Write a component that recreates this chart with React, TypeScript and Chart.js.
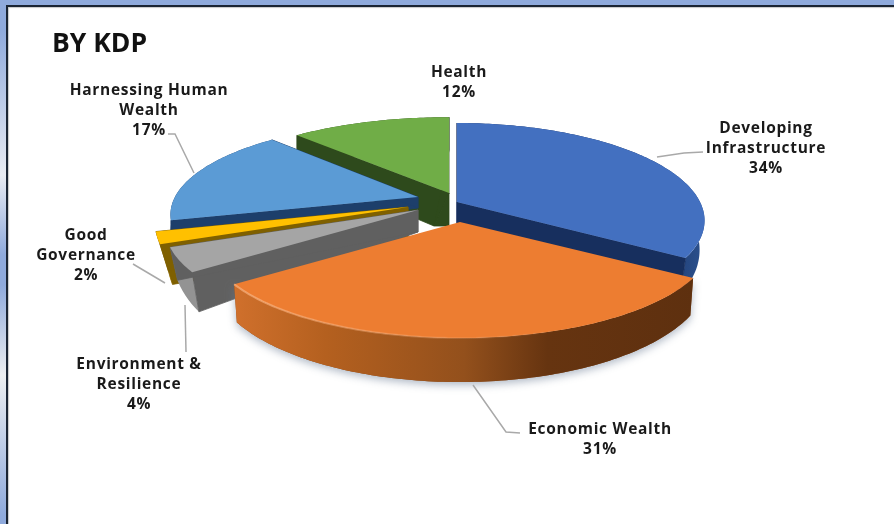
import React, { useEffect, useRef } from "react";
import { Chart, registerables } from "chart.js";

Chart.register(...registerables);

const categories = ["Developing Infrastructure", "Economic Wealth", "Environment & Resilience", "Good Governance", "Harnessing Human Wealth", "Health"];
const shares = [34, 31, 4, 2, 17, 12];
const topColors = ["#4370C0", "#ED7D31", "#A5A5A5", "#FFC000", "#5B9BD5", "#70AD47"];
const cutColors = ["#172F5E", "#8A4A1A", "#606060", "#7F6000", "#1D3F6B", "#2E4A1C"];
const rimColors = ["#1E3C74", "#7A3F14", "#939393", "#DCA600", "#1D3F6B", "#2E4A1C"];

// Layout of the tilted pie (pixels on the canvas)
const RX = 248;
const RY = 94;
const PERSPECTIVE = 0.19;
const origins: [number, number][] = [[457, 202], [460, 222], [418, 210], [408, 207], [418, 197], [449, 193]];
const scaleX = [0.98, 1, 1, 1, 0.98, 1.02];
const scaleY = [1, 1, 1, 1, 0.95, 0.96];
const apexDepth = [26, 30, 22, 38, 11, 33];
const frontDepth = [44, 44, 52, 44, 44, 44];
const shrink = [0.02, 0.012, 0.03, 0.05, 0, 0];
const apexShiftX = [0, 0, 0, 0, 0, -15];
const drawCuts = [true, false, true, true, true, true];
const paintOrder = [5, 0, 4, 3, 2, 1];

const labelLines = [
  ["Developing", "Infrastructure", "34%"],
  ["Economic Wealth", "31%"],
  ["Environment &", "Resilience", "4%"],
  ["Good", "Governance", "2%"],
  ["Harnessing Human", "Wealth", "17%"],
  ["Health", "12%"],
];
const labelAnchors: [number, number][] = [[766, 129], [600, 430], [139, 365], [86, 236], [149, 91], [459, 73]];
const leaders: [number, number][][] = [
  [[657, 157], [684, 153], [703, 152]],
  [[473, 385], [506, 432], [520, 433]],
  [[185, 305], [186, 352]],
  [[133, 264], [165, 283]],
  [[168, 134], [175, 134], [194, 173]],
  [],
];

function project(i: number, a: number, r = 1): [number, number] {
  const u = r * Math.cos(a);
  const v = r * Math.sin(a);
  const s = 1 / (1 - PERSPECTIVE * v);
  return [origins[i][0] + RX * scaleX[i] * u * s, origins[i][1] + RY * scaleY[i] * v * s];
}

function projectBottom(i: number, a: number, r = 1): [number, number] {
  const [x, y] = project(i, a, r);
  const v = r * Math.sin(a);
  const depth = apexDepth[i] + (frontDepth[i] - apexDepth[i]) * Math.max(v, 0);
  return [x + (origins[i][0] - x) * shrink[i], y + depth];
}

function poly(ctx: CanvasRenderingContext2D, pts: [number, number][], fill: string | CanvasGradient, seal = false) {
  ctx.beginPath();
  pts.forEach(([x, y], k) => (k ? ctx.lineTo(x, y) : ctx.moveTo(x, y)));
  ctx.closePath();
  ctx.fillStyle = fill;
  ctx.fill();
  if (seal) {
    ctx.strokeStyle = fill;
    ctx.lineWidth = 0.8;
    ctx.stroke();
  }
}

function arcPts(start: number, end: number, f: (a: number) => [number, number]) {
  const n = Math.max(2, Math.ceil(((end - start) * 180) / Math.PI));
  const out: [number, number][] = [];
  for (let k = 0; k <= n; k++) out.push(f(start + ((end - start) * k) / n));
  return out;
}

const pie3d = {
  id: "pie3d",
  beforeDatasetsDraw(chart: any) {
    const ctx: CanvasRenderingContext2D = chart.ctx;
    const arcs = chart.getDatasetMeta(0).data;
    ctx.save();
    for (const i of paintOrder) {
      const { startAngle, endAngle } = arcs[i];
      const top = arcPts(startAngle, endAngle, (a) => project(i, a));
      const bottom = arcPts(startAngle, endAngle, (a) => projectBottom(i, a));
      const apex = project(i, 0, 0);
      const apexPlain = projectBottom(i, 0, 0);
      const apexB: [number, number] = [apexPlain[0] + apexShiftX[i], apexPlain[1]];
      let rim: string | CanvasGradient = rimColors[i];
      if (i === 1) {
        const g = ctx.createLinearGradient(234, 0, 695, 0);
        g.addColorStop(0, "#D0702C");
        g.addColorStop(0.2, "#B4601F");
        g.addColorStop(0.5, "#93501C");
        g.addColorStop(0.68, "#663410");
        g.addColorStop(1, "#5E300F");
        rim = g;
        ctx.save();
        ctx.shadowColor = "rgba(110,125,150,0.55)";
        ctx.shadowBlur = 9;
        ctx.shadowOffsetY = 3;
        poly(ctx, [...top, ...bottom.slice().reverse()], "#8A4A1A");
        ctx.restore();
      }
      if (i === 0) {
        const g = ctx.createLinearGradient(640, 0, 706, 0);
        g.addColorStop(0, "#172F5E");
        g.addColorStop(1, "#2C5290");
        rim = g;
      }
      poly(ctx, [...top, ...bottom.slice().reverse()], rim);
      if (drawCuts[i]) {
        poly(ctx, [apex, top[0], bottom[0], apexB], cutColors[i], true);
        poly(ctx, [apex, top[top.length - 1], bottom[bottom.length - 1], apexB], cutColors[i], true);
        if (apexShiftX[i]) poly(ctx, [apex, apexPlain, apexB], cutColors[i], true);
      }
      poly(ctx, [apex, ...top], topColors[i]);
      if (i === 1) {
        ctx.beginPath();
        top.forEach(([x, y], k) => (k ? ctx.lineTo(x, y) : ctx.moveTo(x, y)));
        ctx.lineWidth = 2;
        const h = ctx.createLinearGradient(234, 0, 560, 0);
        h.addColorStop(0, "rgba(250,180,130,0.7)");
        h.addColorStop(1, "rgba(250,180,130,0)");
        ctx.strokeStyle = h;
        ctx.stroke();
      }
    }
    ctx.restore();
    return false;
  },
  afterDraw(chart: any) {
    const ctx: CanvasRenderingContext2D = chart.ctx;
    ctx.save();
    ctx.strokeStyle = "#A9A9A9";
    ctx.lineWidth = 1.5;
    for (const line of leaders) {
      if (!line.length) continue;
      ctx.beginPath();
      line.forEach(([x, y], k) => (k ? ctx.lineTo(x, y) : ctx.moveTo(x, y)));
      ctx.stroke();
    }
    ctx.fillStyle = "#1A1A1A";
    ctx.font = "bold 15.5px 'Open Sans'";
    ctx.textAlign = "center";
    ctx.textBaseline = "middle";
    (ctx as any).letterSpacing = "0.7px";
    labelLines.forEach((lines, i) => {
      lines.forEach((t, k) => ctx.fillText(t, labelAnchors[i][0], labelAnchors[i][1] + k * 20));
    });
    ctx.restore();
  },
};

export default function App() {
  const ref = useRef<HTMLCanvasElement>(null);
  useEffect(() => {
    document.body.style.margin = "0";
    const chart = new Chart(ref.current!, {
      type: "pie",
      data: {
        labels: categories,
        datasets: [{ data: shares, backgroundColor: topColors, borderWidth: 0 }],
      },
      options: {
        animation: false,
        responsive: false,
        layout: { padding: { left: 52, top: 29 } },
        plugins: {
          legend: { display: false },
          tooltip: { enabled: false },
          title: {
            display: true,
            text: "BY KDP",
            align: "start",
            color: "#111111",
            font: { family: "'Open Sans'", size: 26.5, weight: "bold" },
            padding: 0,
          },
        },
      },
      plugins: [pie3d],
    } as any);
    return () => chart.destroy();
  }, []);
  return (
    <div
      style={{
        position: "fixed",
        left: 0,
        top: 0,
        width: 894,
        height: 524,
        overflow: "hidden",
        background:
          "linear-gradient(180deg,#8FAADC 0px,#8FAADC 30px,#E8EBF2 175px,#8FAADC 255px,#8FAADC 285px,#ECEEF0 375px,#8FAADC 515px)",
      }}
    >
      <div
        style={{
          position: "absolute",
          left: 6,
          top: 5,
          width: 888,
          height: 519,
          boxSizing: "border-box",
          background: "#FFFFFF",
          borderLeft: "2px solid #1A2433",
          borderTop: "2px solid #1A2433",
          boxShadow: "inset 1px 1px 1px #C8C8C8",
        }}
      />
      <canvas
        ref={ref}
        width={894}
        height={524}
        style={{ position: "absolute", left: 0, top: 0, filter: "blur(0.45px)" }}
      />
    </div>
  );
}
